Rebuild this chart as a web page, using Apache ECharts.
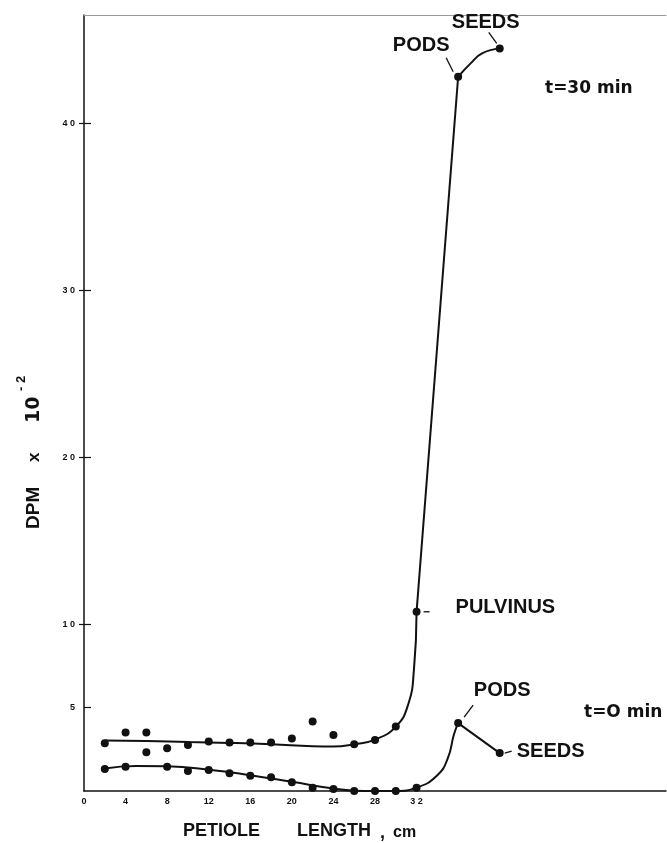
<!DOCTYPE html>
<html>
<head>
<meta charset="utf-8">
<script src="https://cdn.jsdelivr.net/npm/echarts@6/dist/echarts.min.js"></script>
<style>
html,body{margin:0;padding:0;background:#fff;}
#chart{width:667px;height:843px;}
</style>
</head>
<body>
<div id="chart"></div>
<script>
// ---- data ----
// measured points, t = 30 min
const t30DotX = [2, 4, 6, 6, 8, 10, 12, 14, 16, 18, 20, 22, 24, 26, 28, 30, 32, 36, 40];
const t30DotY = [2.86, 3.5, 3.5, 2.32, 2.56, 2.76, 2.96, 2.9, 2.9, 2.9, 3.14, 4.16, 3.36, 2.8, 3.06, 3.86, 10.74, 42.8, 44.5];
// measured points, t = 0 min
const t0DotX = [2, 4, 8, 10, 12, 14, 16, 18, 20, 22, 24, 26, 28, 30, 32, 36, 40];
const t0DotY = [1.32, 1.46, 1.46, 1.2, 1.26, 1.06, 0.92, 0.82, 0.52, 0.2, 0.12, 0, 0, 0, 0.2, 4.07, 2.27];
// hand-drawn fitted curves (traced), in pieces
const t30CurveX = [2, 6, 10, 14, 18, 22, 24, 26, 28, 30, 31.2, 31.75, 32];
const t30CurveY = [3.02, 3.0, 2.93, 2.88, 2.8, 2.68, 2.66, 2.8, 3.08, 3.86, 5.2, 7.3, 10.74];
const t30RiseX = [32, 36];
const t30RiseY = [10.74, 42.8];
const t30ArcX = [36, 37.2, 38.3, 40];
const t30ArcY = [42.8, 43.6, 44.2, 44.5];
const t0CurveX = [2, 5, 8, 12, 16, 20, 24, 26, 28, 30, 32, 34, 35, 35.6, 36];
const t0CurveY = [1.35, 1.5, 1.48, 1.28, 0.95, 0.55, 0.15, 0.02, 0, 0, 0.2, 0.95, 1.95, 3.4, 4.07];
const t0TailX = [36, 40];
const t0TailY = [4.07, 2.27];
// axis ticks
const xTickLabels = [0, 4, 8, 12, 16, 20, 24, 28, 32];
const yTickLabels = [5, 10, 20, 30, 40];
const yRightTicks = [10, 20, 30, 40];
// annotations: [text, x, y]
const annotT30Seeds = ['SEEDS', 40, 44.5];
const annotT30Pods = ['PODS', 36, 42.8];
const annotPulvinus = ['PULVINUS', 32, 10.74];
const annotT0Pods = ['PODS', 36, 4.07];
const annotT0Seeds = ['SEEDS', 40, 2.27];

const zip = (xs, ys) => xs.map((x, i) => [x, ys[i]]);
const INK = '#111';
const WORD_FONT = '"Liberation Sans", Arial, sans-serif';
const spaced = v => String(v).split('').join(' ');

const chart = echarts.init(document.getElementById('chart'), null, {renderer: 'canvas'});

const lineStyle = {color: INK, width: 2};
const option = {
  backgroundColor: '#fff',
  animation: false,
  grid: {left: 84, right: 1, top: 15, bottom: 52, containLabel: false},
  xAxis: [{
    type: 'value', min: 0, max: 56, interval: 4,
    axisLine: {show: true, onZero: false, lineStyle: {color: INK, width: 1.5}},
    axisTick: {show: false},
    splitLine: {show: false},
    axisLabel: {
      customValues: xTickLabels,
      margin: 6,
      color: INK, fontSize: 9, fontWeight: 'bold', fontFamily: WORD_FONT,
      formatter: v => xTickLabels.indexOf(v) < 0 ? '' : (v >= 30 ? spaced(v) : String(v))
    }
  }, {
    type: 'value', position: 'top', min: 0, max: 56,
    axisLine: {show: true, onZero: false, lineStyle: {color: '#9a9a9a', width: 1}},
    axisTick: {show: false}, axisLabel: {show: false}, splitLine: {show: false}
  }],
  yAxis: [{
    type: 'value', min: 0, max: 46.5, interval: 5,
    axisLine: {show: true, onZero: false, lineStyle: {color: INK, width: 1.5}},
    axisTick: {show: true, inside: true, length: 7, customValues: yTickLabels, lineStyle: {color: INK, width: 1.2}},
    splitLine: {show: false},
    axisLabel: {
      customValues: yTickLabels,
      margin: 9,
      color: INK, fontSize: 9, fontWeight: 'bold', fontFamily: WORD_FONT,
      formatter: v => yTickLabels.indexOf(v) < 0 ? '' : spaced(v)
    }
  }, {
    type: 'value', position: 'right', min: 0, max: 46.5, interval: 5,
    axisLine: {show: false},
    axisTick: {show: true, inside: true, length: 5, customValues: yRightTicks, lineStyle: {color: INK, width: 1.2}},
    axisLabel: {show: false}, splitLine: {show: false}
  }],
  series: [
    {type: 'line', data: zip(t30CurveX, t30CurveY), smooth: 0.5, showSymbol: false, lineStyle, z: 2},
    {type: 'line', data: zip(t30RiseX, t30RiseY), showSymbol: false, lineStyle, z: 2},
    {type: 'line', data: zip(t30ArcX, t30ArcY), smooth: 0.5, showSymbol: false, lineStyle, z: 2},
    {type: 'line', data: zip(t0CurveX, t0CurveY), smooth: 0.5, showSymbol: false, lineStyle, z: 2},
    {type: 'line', data: zip(t0TailX, t0TailY), showSymbol: false, lineStyle, z: 2},
    {type: 'scatter', data: zip(t30DotX, t30DotY), symbolSize: 8, itemStyle: {color: INK, opacity: 1}, z: 3},
    {type: 'scatter', data: zip(t0DotX, t0DotY), symbolSize: 8, itemStyle: {color: INK, opacity: 1}, z: 3}
  ]
};
chart.setOption(option);

// annotations positioned through the chart's own scales
const px = (x, y) => chart.convertToPixel({xAxisIndex: 0, yAxisIndex: 0}, [x, y]);
function wordLabel(a, dx, dy, align, size, arrow) {
  const p = px(a[1], a[2]);
  const els = [{
    type: 'text', x: p[0] + dx, y: p[1] + dy, z: 10,
    style: {text: a[0], fill: INK, font: 'bold ' + size + 'px ' + WORD_FONT, textAlign: align, textVerticalAlign: 'middle'}
  }];
  if (arrow) {
    els.push({
      type: 'line', z: 10,
      shape: {x1: p[0] + arrow[0], y1: p[1] + arrow[1], x2: p[0] + arrow[2], y2: p[1] + arrow[3]},
      style: {stroke: INK, lineWidth: 1.3}
    });
  }
  return els;
}
const T = (text, x, y, font, rot) => ({
  type: 'text', x, y, z: 10, rotation: rot || 0,
  style: {text, fill: INK, font, textAlign: 'left', textVerticalAlign: 'middle'}
});
const graphics = [].concat(
  wordLabel(annotT30Seeds, -14, -26, 'center', 20, [-11, -16, -3, -5]),
  wordLabel(annotT30Pods, -37, -31, 'center', 20, [-12, -19, -5, -5]),
  wordLabel(annotPulvinus, 39, -4, 'left', 20, [7, 0, 13, 0]),
  wordLabel(annotT0Pods, 44, -33, 'center', 20, [15, -18, 6, -6]),
  wordLabel(annotT0Seeds, 17, -2, 'left', 20, [5, 0, 12, -2]),
  [
    T('t=30 min', 545, 89, 'bold 17px "DejaVu Sans", sans-serif'),
    T('t=O min', 584, 713, 'bold 17px "DejaVu Sans", sans-serif'),
    // x axis title
    T('PETIOLE', 183, 831, 'bold 18px ' + WORD_FONT),
    T('LENGTH', 297, 831, 'bold 18px ' + WORD_FONT),
    T(',', 380, 833, 'bold 18px ' + WORD_FONT),
    T('cm', 393, 833, 'bold 16px ' + WORD_FONT),
    // y axis title (reads bottom to top)
    T('DPM', 34, 529, 'bold 19px ' + WORD_FONT, Math.PI / 2),
    T('x', 34, 462, 'bold 17px ' + WORD_FONT, Math.PI / 2),
    T('10', 34, 423, 'bold 19px "DejaVu Sans", sans-serif', Math.PI / 2),
    T('- 2', 21, 391, 'bold 13px ' + WORD_FONT, Math.PI / 2)
  ]
);
chart.setOption({graphic: graphics});
</script>
</body>
</html>
